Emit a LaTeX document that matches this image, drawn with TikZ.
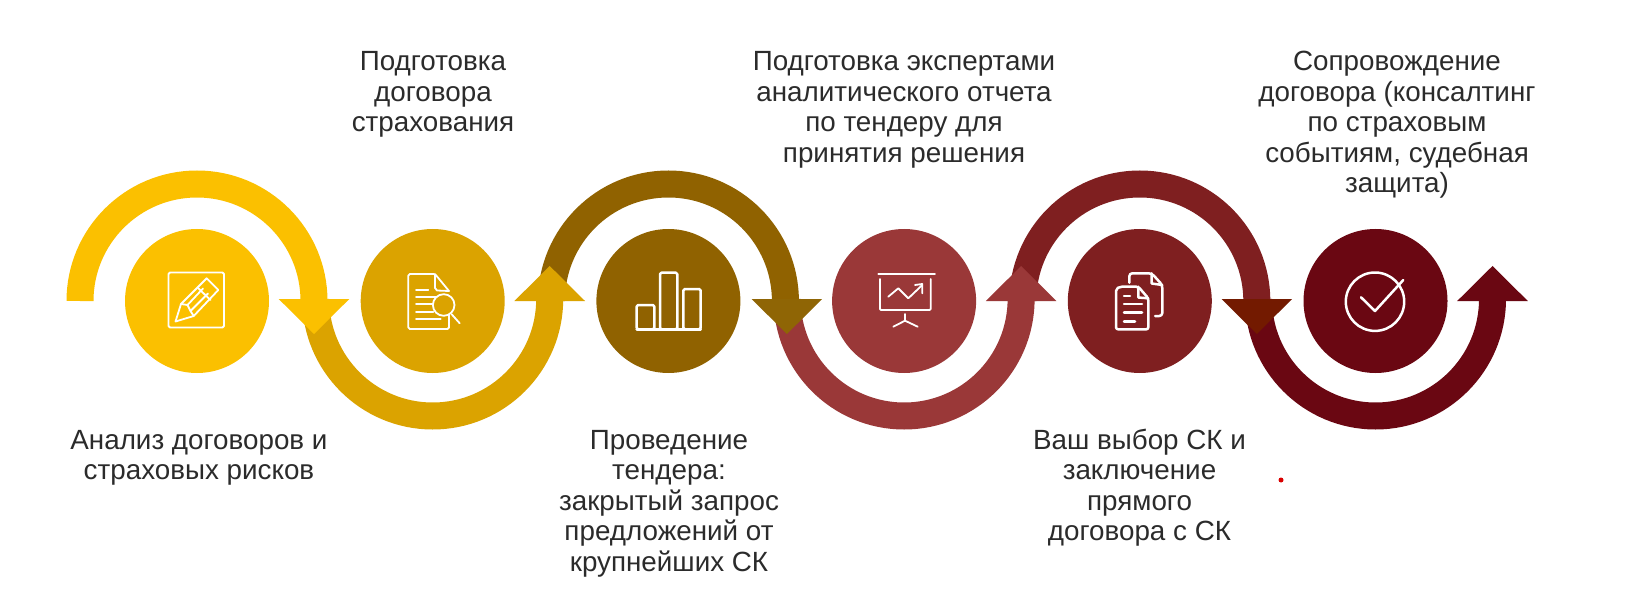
\documentclass[tikz,border=0pt]{standalone}
\usepackage{fontspec}
\setmainfont{Liberation Sans}
\usepackage{xcolor}
\usetikzlibrary{positioning, calc}
\definecolor{stepA}{HTML}{FBC000}
\definecolor{stepB}{HTML}{DBA300}
\definecolor{stepC}{HTML}{906200}
\definecolor{stepD}{HTML}{9A3838}
\definecolor{stepE}{HTML}{7F1F20}
\definecolor{stepF}{HTML}{6A0712}
\definecolor{headC}{HTML}{8F6505}
\definecolor{headE}{HTML}{731A00}
\definecolor{labeltext}{HTML}{2B2B2B}
\tikzset{
    stepcircle/.style={
        circle,
        draw=none,
        minimum size=144pt,
        inner sep=0pt,
        outer sep=0pt
    },
    ringarc/.style={
        line width=27pt,
        line cap=butt
    },
    steptext/.style={
        font=\fontsize{27.8}{30.5}\selectfont,
        text=labeltext,
        align=center,
        inner sep=0pt,
        anchor=north
    },
    icon/.style={
        draw=white,
        line width=1.8pt,
        line join=round,
        line cap=round
    },
    reddot/.style={
        circle,
        fill=red!85!black,
        minimum size=5pt,
        inner sep=0pt
    }
}
\begin{document}
\begin{tikzpicture}[x=1pt, y=-1pt, node distance=91.7pt]
\path[use as bounding box] (0,0) rectangle (1632,612);

% Circles
\node[stepcircle, fill=stepA] (c1) at (197,301) {};
\node[stepcircle, fill=stepB, right=of c1] (c2) {};
\node[stepcircle, fill=stepC, right=of c2] (c3) {};
\node[stepcircle, fill=stepD, right=of c3] (c4) {};
\node[stepcircle, fill=stepE, right=of c4] (c5) {};
\node[stepcircle, fill=stepF, right=of c5] (c6) {};

% Arrows, last one first so that each head lies on the next arc
\draw[ringarc, stepF] ($(c6)+(-117,-2)$) arc[start angle=180, end angle=0, radius=117];
\fill[stepF] ($(c6)+(81.7,0)$) -- ++(70.6,0) -- ++(-35.3,-35) -- cycle;

\draw[ringarc, stepE] ($(c5)+(-117,0)$) arc[start angle=180, end angle=360, radius=117];
\fill[headE] ($(c5)+(81.7,-2)$) -- ++(70.6,0) -- ++(-35.3,35) -- cycle;

\draw[ringarc, stepD] ($(c4)+(-117,-2)$) arc[start angle=180, end angle=0, radius=117];
\fill[stepD] ($(c4)+(81.7,0)$) -- ++(70.6,0) -- ++(-35.3,-35) -- cycle;

\draw[ringarc, stepC] ($(c3)+(-117,0)$) arc[start angle=180, end angle=360, radius=117];
\fill[headC] ($(c3)+(83.2,-2)$) -- ++(70.6,0) -- ++(-35.3,35) -- cycle;

\draw[ringarc, stepB] ($(c2)+(-117,-2)$) arc[start angle=180, end angle=0, radius=117];
\fill[stepB] ($(c2)+(81.7,0)$) -- ++(70.6,0) -- ++(-35.3,-35) -- cycle;

\draw[ringarc, stepA] ($(c1)+(-117,0)$) arc[start angle=180, end angle=360, radius=117];
\fill[stepA] ($(c1)+(81.7,-2)$) -- ++(70.6,0) -- ++(-35.3,35) -- cycle;

% Icon 1: pencil
\draw[icon, rounded corners=1.5pt] (168.5,272.5) rectangle (224,327.5);
\draw[icon] (175.5,321.5) -- (181,304) -- (206.7,278.3) -- (218.3,290) -- (193.7,316) -- cycle;
\draw[icon] (198,288) -- (210.5,300);
\draw[icon] (181,304) -- (187.5,305) -- (190.5,311) -- (193.7,316);
\draw[icon] (187.5,305) -- (203,288.5);
\draw[icon] (190.5,311) -- (208,293.5);

% Icon 2: document with magnifier
\draw[icon, rounded corners=1.5pt] (449,291) -- (435,274) -- (408.3,274) -- (408.3,329) -- (449,329) -- (449,315);
\draw[icon] (435,274) -- (435,288) -- (437,290.5) -- (449,291);
\draw[icon] (416,290) -- (428.3,290);
\draw[icon] (416,297) -- (436.7,297);
\draw[icon] (416,304.3) -- (432.7,304.3);
\draw[icon] (416,311.7) -- (433.3,311.7);
\draw[icon] (416,319) -- (440.7,319);
\draw[icon] (443.7,305) circle[radius=10.8];
\draw[icon] (451.7,314.3) -- (459.7,323.3);

% Icon 3: bars
\draw[icon, line width=2.5pt, rounded corners=1.5pt] (636.7,329.3) rectangle (654.3,305);
\draw[icon, line width=2.5pt, rounded corners=1.5pt] (660,329.3) rectangle (677.3,272.7);
\draw[icon, line width=2.5pt, rounded corners=1.5pt] (683.3,329.3) rectangle (700.7,289);
\draw[icon, line width=2.5pt] (636.7,329.3) -- (700.7,329.3);

% Icon 4: board with a chart
\draw[icon] (878.3,274.3) -- (935,274.3);
\draw[icon, rounded corners=1pt] (880,279) -- (880,310) -- (930.7,310) -- (930.7,279);
\draw[icon] (905,314) -- (905,320.7);
\draw[icon] (893.3,326.7) -- (905,320.7) -- (917.7,326.7);
\draw[icon] (888.3,296.7) -- (898.3,288.3) -- (908.3,298.3) -- (922.3,285);
\draw[icon] (915,285) -- (922.3,284) -- (922.3,293.3);

% Icon 5: two documents
\draw[icon, line width=2.5pt, rounded corners=2pt] (1138.3,286.7) -- (1120,286.7) -- (1116,289) -- (1116,329.3) -- (1148.3,329.3) -- (1148.3,298.3) -- cycle;
\draw[icon, line width=2.5pt] (1138.3,286.7) -- (1138.3,297.5) -- (1148.3,298.3);
\draw[icon, line width=2.5pt] (1124,296) -- (1130,296);
\draw[icon, line width=2.5pt] (1124,304) -- (1142,304);
\draw[icon, line width=2.5pt] (1124,312.7) -- (1142,312.7);
\draw[icon, line width=2.5pt] (1124,321.7) -- (1135,321.7);
\draw[icon, line width=2.5pt, rounded corners=3pt] (1129.3,282.7) -- (1129.3,273.3) -- (1151.7,273.3) -- (1162.3,285) -- (1162.3,316) -- (1155,316);
\draw[icon, line width=2.5pt] (1151.7,273.3) -- (1151.7,283.5) -- (1162.3,285);

% Icon 6: check mark
\draw[icon, line width=2.5pt] (1375,301.7) circle[radius=29.2];
\draw[icon, line width=2.5pt] (1361,297.3) -- (1375,311) -- (1403.3,280);

% Labels
\node[steptext] (t1) at (199,430) {Анализ договоров и\\страховых рисков};
\node[steptext] (t2) at (433,51.5) {Подготовка\\договора\\страхования};
\node[steptext] (t3) at (669,430) {Проведение\\тендера:\\закрытый запрос\\предложений от\\крупнейших СК};
\node[steptext] (t4) at (904,51.5) {Подготовка экспертами\\аналитического отчета\\по тендеру для\\принятия решения};
\node[steptext] (t5) at (1139.5,428.5) {Ваш выбор СК и\\заключение\\прямого\\договора с СК};
\node[steptext] (t6) at (1397,51) {Сопровождение\\договора (консалтинг\\по страховым\\событиям, судебная\\защита)};

\node[reddot] (dot) at (1281,480) {};
\end{tikzpicture}
\end{document}
